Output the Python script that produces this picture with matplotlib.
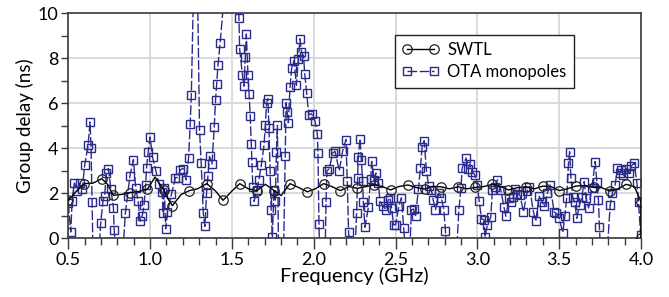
import matplotlib
matplotlib.use("Agg")
import matplotlib.pyplot as plt
from matplotlib.ticker import MultipleLocator, FormatStrFormatter

plt.rcParams['font.family'] = ['Lato', 'DejaVu Sans']

# ---------------- data ----------------
swtl_freq = [0.500, 0.550, 0.598, 0.650, 0.704, 0.740, 0.775, 0.825, 0.877, 0.930,
             0.983, 1.030, 1.083, 1.110, 1.136, 1.190, 1.240, 1.290, 1.346, 1.400,
             1.446, 1.500, 1.548, 1.600, 1.652, 1.705, 1.758, 1.800, 1.855, 1.910,
             1.961, 2.010, 2.061, 2.110, 2.163, 2.215, 2.266, 2.320, 2.370, 2.420,
             2.470, 2.520, 2.576, 2.630, 2.678, 2.730, 2.778, 2.830, 2.884, 2.935,
             2.986, 3.040, 3.090, 3.140, 3.190, 3.245, 3.300, 3.350, 3.400, 3.450,
             3.500, 3.550, 3.600, 3.655, 3.710, 3.760, 3.810, 3.860, 3.910, 3.960,
             4.000, 4.000, 4.000]
swtl_gd = [1.69, 2.10, 2.43, 2.45, 2.65, 2.40, 1.91, 1.95, 2.03, 2.08,
           2.18, 2.72, 2.15, 1.75, 1.45, 1.95, 2.12, 2.20, 2.43, 2.10,
           1.69, 2.10, 2.43, 2.20, 2.12, 2.40, 2.12, 1.90, 2.43, 2.25,
           2.07, 2.20, 2.43, 2.30, 2.12, 2.30, 2.22, 2.30, 2.37, 2.30,
           2.15, 2.30, 2.37, 2.25, 2.19, 2.30, 2.29, 2.20, 2.29, 2.20,
           2.26, 2.30, 2.40, 2.30, 2.15, 2.25, 2.29, 2.20, 2.32, 2.30,
           2.12, 2.20, 2.32, 2.35, 2.26, 2.25, 2.10, 2.20, 2.40, 2.30,
           1.63, 0.80, 0.00]

ota_freq = [0.500, 0.515, 0.523, 0.537, 0.555, 0.572, 0.586, 0.600, 0.621, 0.633, 0.639, 0.645, 0.652,
            0.684, 0.698, 0.712, 0.722, 0.733, 0.745, 0.760, 0.776, 0.780, 0.796,
            0.830, 0.849, 0.862, 0.877, 0.898, 0.912, 0.926, 0.939, 0.952, 0.963, 0.973, 0.978, 0.988,
            1.000, 1.015, 1.036, 1.055, 1.073, 1.080, 1.087, 1.095, 1.106, 1.130, 1.155, 1.170, 1.185, 1.203, 1.220, 1.235, 1.245, 1.252, 1.265,
            1.290, 1.302, 1.312, 1.325, 1.335, 1.345, 1.353, 1.363, 1.378, 1.392, 1.400, 1.407, 1.415, 1.428, 1.455,
            1.535, 1.543, 1.547, 1.564, 1.574, 1.582, 1.588, 1.598, 1.605, 1.612, 1.618, 1.622, 1.628, 1.636, 1.651, 1.665, 1.680, 1.696, 1.704, 1.712, 1.720, 1.726, 1.733, 1.740, 1.747, 1.757, 1.765, 1.772, 1.778, 1.785,
            1.815, 1.826, 1.831, 1.838, 1.845, 1.855, 1.865, 1.880, 1.894, 1.906, 1.916, 1.925, 1.938, 1.945, 1.957, 1.969, 1.987, 2.008, 2.022, 2.026, 2.032, 2.038,
            2.069, 2.075, 2.081, 2.095, 2.116, 2.130, 2.156, 2.177, 2.197, 2.205, 2.213, 2.222,
            2.250, 2.262, 2.268, 2.272, 2.283, 2.291, 2.299, 2.303, 2.313, 2.334, 2.348, 2.354, 2.370, 2.380, 2.395, 2.405, 2.425, 2.441, 2.456, 2.466, 2.476, 2.488, 2.500, 2.520, 2.536, 2.550, 2.565,
            2.585, 2.597, 2.610, 2.622, 2.640, 2.652, 2.662, 2.675, 2.689, 2.703, 2.719, 2.730, 2.744, 2.764, 2.780, 2.795, 2.805, 2.815,
            2.870, 2.887, 2.900, 2.907, 2.931, 2.945, 2.955, 2.968, 2.984, 3.000, 3.011, 3.025, 3.041, 3.047, 3.061, 3.082, 3.092, 3.105, 3.123, 3.143, 3.163, 3.174, 3.194, 3.205, 3.220, 3.232, 3.245, 3.261, 3.282, 3.306, 3.318, 3.343, 3.357, 3.377, 3.398, 3.410, 3.428, 3.445, 3.469, 3.482, 3.500, 3.522, 3.535, 3.546, 3.557, 3.564, 3.572, 3.583, 3.595, 3.608, 3.625, 3.638, 3.653, 3.664, 3.680, 3.700, 3.720, 3.730, 3.740, 3.746, 3.755,
            3.790, 3.812, 3.825, 3.842, 3.856, 3.870, 3.880, 3.893, 3.910, 3.925, 3.940, 3.958, 3.975, 3.985, 3.998]
ota_gd = [1.55, 0.28, 1.64, 2.46, 2.10, 2.45, 2.20, 3.24, 4.16, 5.17, 4.01, 1.61, -1,
          -1, 0.68, 1.66, 1.90, 2.90, 3.10, 2.20, 1.35, 0.39, -1,
          -1, 1.13, 1.90, 2.79, 3.50, 2.24, 1.67, 0.76, 1.00, 1.47, 2.39, 3.13, 3.84,
          4.50, 3.60, 2.98, 2.40, 2.04, 1.13, 2.24, 0.42, 1.15, 1.95, 2.70, 2.70, 3.05, 3.10, 2.60, 3.57, 5.08, 6.39, 11,
          11, 4.83, 3.35, 1.13, 0.53, 2.01, 2.76, 3.64, 3.30, 4.95, 6.16, 6.86, 7.72, 8.68, 11,
          11, 9.79, 8.43, 7.27, 6.76, 8.04, 9.08, 7.27, 6.41, 5.42, 4.20, 3.39, 2.28, 1.64, 2.16, 2.60, 3.27, 4.13, 5.02, 6.01, 6.20, 4.90, 3.00, 1.27, 0.04, 2.16, 1.64, 3.83, 5.02, -1,
          -1, 3.64, 6.03, 5.60, 5.14, 6.71, 7.56, 7.90, 6.80, 7.99, 8.87, 8.30, 8.09, 7.30, 6.46, 5.50, 5.53, 5.20, 4.64, 3.79, 0.64, -1,
          -1, 1.60, 3.00, 3.10, 3.79, 3.87, 3.00, 3.90, 4.39, 2.53, 0.28, -1,
          -1, 1.13, 2.68, 3.60, 4.43, 3.50, 2.53, 1.60, 0.49, 1.38, 2.65, 3.42, 2.60, 2.90, 2.46, 1.64, 1.42, 1.27, 1.72, 1.80, 1.35, 0.60, 0.60, 1.42, 1.80, 0.46, -1,
          -1, 1.27, 1.30, 0.98, 2.20, 3.13, 4.04, 4.34, 3.00, 2.31, 2.16, 1.70, 1.27, 2.01, 1.80, 1.27, 0.34, -1,
          -1, 1.27, 2.24, 3.13, 3.57, 3.10, 3.30, 2.95, 2.83, 2.38, 1.67, 0.87, 0.83, 0.05, 0.60, 0.93, 2.16, 2.30, 2.60, 2.16, 1.38, 0.98, 1.79, 1.60, 1.82, 2.20, 1.97, 1.91, 1.17, 2.12, 2.30, 1.17, 0.76, 1.87, 1.61, 1.42, 2.01, 2.38, 1.17, 1.11, 0.90, 0.25, 1.00, 1.79, 3.36, 3.85, 2.67, 1.82, 1.60, 0.89, 1.50, 1.82, 2.52, 1.79, 1.35, 2.24, 3.41, 2.52, 1.70, 0.52, -1,
          -1, 1.48, 2.00, 2.37, 3.11, 2.90, 3.05, 2.81, 3.10, 2.90, 3.20, 3.36, 2.47, 1.63, 0.15]

labels = ["SWTL", "OTA monopoles"]
x_label = "Frequency (GHz)"
y_label = "Group delay (ns)"

# ---------------- plot ----------------
fig = plt.figure(figsize=(6.69, 2.97), dpi=100)
ax = fig.add_axes([0.1021, 0.1976, 0.856, 0.7576])

navy = '#2b2b8c'
l_ota, = ax.plot(ota_freq, ota_gd, color=navy, lw=1.0, linestyle=(0, (7, 1.8)),
                 marker='s', markersize=6.4, markerfacecolor='none',
                 markeredgecolor=navy, markeredgewidth=1.0, zorder=2)
l_swtl, = ax.plot(swtl_freq, swtl_gd, color='black', lw=1.0, marker='o',
                  markersize=6.8, markerfacecolor='none', markeredgecolor='#222222',
                  markeredgewidth=0.9, markevery=2, zorder=3)

ax.set_xlim(0.5, 4.0)
ax.set_ylim(0, 10)
ax.xaxis.set_major_locator(MultipleLocator(0.5))
ax.xaxis.set_minor_locator(MultipleLocator(0.1))
ax.xaxis.set_major_formatter(FormatStrFormatter('%.1f'))
ax.yaxis.set_major_locator(MultipleLocator(2))
ax.yaxis.set_minor_locator(MultipleLocator(1))

ax.grid(True, which='major', color='#d8d8d8', lw=1.3, zorder=0)
ax.set_axisbelow(True)

for s in ax.spines.values():
    s.set_color('#3a3a3a')
    s.set_linewidth(1.2)

ax.tick_params(axis='both', which='major', direction='out', length=8, width=1,
               color='#3a3a3a', labelsize=13, pad=2)
ax.tick_params(axis='both', which='minor', direction='out', length=5, width=1,
               color='#3a3a3a')
ax.tick_params(axis='y', which='major', length=5)

ax.set_xlabel(x_label, fontsize=14.5, labelpad=-1)
ax.set_ylabel(y_label, fontsize=13.5, labelpad=3)

leg = ax.legend([l_swtl, l_ota], labels, loc='upper left',
                bbox_to_anchor=(0.570, 0.905), fontsize=12, frameon=True,
                fancybox=False, framealpha=1, edgecolor='#222222',
                handlelength=2.2, numpoints=2, borderpad=0.45,
                labelspacing=0.35, handletextpad=0.5, borderaxespad=0)
leg.get_frame().set_linewidth(1.0)

fig.savefig('out.png', dpi=100)
